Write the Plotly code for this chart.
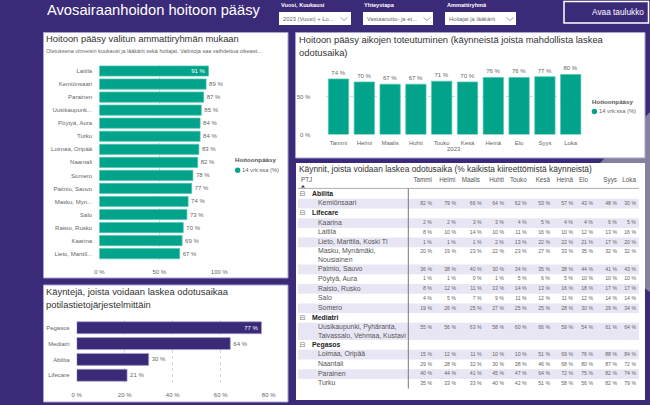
import plotly.graph_objects as go

W, H = 650, 405
BG = "#3B2A78"
TEAL = "#01A38B"
GRAY = "#666666"
DARK = "#333333"
STRIPE = "#E8E6F4"
FONT = "Liberation Sans"

clinic_names = ["Laitila", "Kemiönsaari", "Parainen", "Uusikaupunk...", "Pöytyä, Aura", "Turku", "Loimaa, Oripää",
                "Naantali", "Somero", "Paimio, Sauvo", "Masku, Myn...", "Salo", "Raisio, Rusko", "Kaarina", "Lieto, Marttil..."]
clinic_access = [91, 89, 87, 85, 84, 84, 83, 82, 78, 77, 74, 73, 70, 69, 67]

months = ["Tammi", "Helmi", "Maalis", "Huhti", "Touko", "Kesä", "Heinä", "Elo", "Syys", "Loka"]
monthly_access = [74, 70, 67, 67, 71, 70, 76, 76, 77, 80]

systems = ["Pegasos", "Mediatri", "Abilita", "Lifecare"]
system_share = [77, 64, 30, 21]

table_groups = [
    ("Abilita", [
        ("Kemiönsaari", [82, 79, 66, 64, 62, 53, 57, 43, 48, 30]),
    ]),
    ("Lifecare", [
        ("Kaarina", [2, 2, 3, 3, 4, 5, 4, 4, 6, 5]),
        ("Laitila", [8, 10, 14, 10, 11, 16, 10, 12, 13, 16]),
        ("Lieto, Marttila, Koski Tl", [1, 1, 1, 2, 13, 22, 22, 21, 17, 20]),
        ("Masku, Mynämäki,<br>Nousiainen", [20, 19, 23, 22, 23, 27, 33, 35, 32, 32]),
        ("Paimio, Sauvo", [36, 38, 40, 30, 34, 35, 38, 44, 41, 43]),
        ("Pöytyä, Aura", [1, 1, 0, 1, 5, 6, 5, 10, 10, 10]),
        ("Raisio, Rusko", [8, 12, 11, 13, 14, 13, 16, 18, 17, 17]),
        ("Salo", [4, 5, 7, 9, 11, 12, 11, 12, 14, 14]),
        ("Somero", [19, 26, 25, 27, 25, 25, 28, 30, 29, 34]),
    ]),
    ("Mediatri", [
        ("Uusikaupunki, Pyhäranta,<br>Taivassalo, Vehmaa, Kustavi", [55, 56, 63, 58, 60, 66, 59, 54, 61, 64]),
    ]),
    ("Pegasos", [
        ("Loimaa, Oripää", [15, 12, 11, 10, 10, 51, 69, 76, 88, 84]),
        ("Naantali", [29, 28, 32, 30, 38, 46, 68, 80, 87, 72]),
        ("Parainen", [40, 44, 41, 45, 47, 64, 72, 75, 82, 74]),
        ("Turku", [35, 33, 33, 40, 42, 51, 58, 56, 82, 79]),
    ]),
]

# pixel layout of the table
col_right = [432, 456, 481.7, 504, 526.7, 550, 573, 593, 617, 636]
head_right = [432, 455.3, 480, 504, 526.7, 550, 573, 588, 617, 636]
ROW_H, ROW2_H = 9.7, 17.3
TABLE_TOP = 189.1


def xd(a, b):
    return [a / W, b / W]


def yd(top, bottom):
    return [1 - bottom / H, 1 - top / H]


def note(x, y, text, size=6, color=GRAY, anchor="left", weight=None, font=FONT):
    if weight:
        text = f"<b>{text}</b>"
    return dict(xref="paper", yref="paper", x=x / W, y=1 - y / H, text=text, showarrow=False,
                xanchor=anchor, yanchor="middle", align=anchor, borderpad=0, borderwidth=0,
                font=dict(size=size, color=color, family=font))


def rect(x0, y0, x1, y1, fill="white", line=None, lw=1):
    return dict(type="rect", xref="paper", yref="paper", x0=x0 / W, x1=x1 / W, y0=1 - y0 / H, y1=1 - y1 / H,
                fillcolor=fill, line=dict(color=line or fill, width=lw if line else 0), layer="below")


def chevron(cx, cy):
    pts = [(cx - 3.5, cy - 1.5), (cx, cy + 1.5), (cx + 3.5, cy - 1.5)]
    path = "M" + " L".join(f"{x / W},{1 - y / H}" for x, y in pts)
    return dict(type="path", xref="paper", yref="paper", path=path, line=dict(color="#777777", width=0.7), layer="above")


fig = go.Figure()

# Chart 1
fig.add_trace(go.Bar(y=clinic_names, x=clinic_access, orientation="h", xaxis="x", yaxis="y",
                     marker=dict(color=TEAL, line=dict(color="#4FC4B0", width=0.7)), width=0.78,
                     texttemplate="%{x} %", textposition=["inside"] + ["outside"] * 14, insidetextanchor="end",
                     constraintext="none", cliponaxis=False,
                     outsidetextfont=dict(size=6, color=GRAY, family=FONT),
                     insidetextfont=dict(size=6, color="white", family=FONT), showlegend=False))
# Chart 2
fig.add_trace(go.Bar(x=months, y=monthly_access, xaxis="x2", yaxis="y2",
                     marker=dict(color=TEAL, line=dict(color="#4FC4B0", width=0.7)), width=0.787,
                     texttemplate="%{y} %", textposition="outside", constraintext="none", cliponaxis=False,
                     outsidetextfont=dict(size=6, color=GRAY, family=FONT), showlegend=False))
# Chart 3
fig.add_trace(go.Bar(y=systems, x=system_share, orientation="h", xaxis="x3", yaxis="y3",
                     marker=dict(color=BG, line=dict(color="#A9A2CF", width=0.7)), width=0.756,
                     texttemplate="%{x} %", textposition=["inside"] + ["outside"] * 3, insidetextanchor="end",
                     constraintext="none", cliponaxis=False,
                     outsidetextfont=dict(size=6, color=GRAY, family=FONT),
                     insidetextfont=dict(size=6, color="white", family=FONT), showlegend=False))

# Table built from the row lists
stripe_y, stripe_h = [], []
val_x, val_y, val_t = [], [], []
lab_y, lab_t = [], []
grp_y, grp_t = [], []
y = TABLE_TOP
for group, rows in table_groups:
    grp_y.append(y + ROW_H / 2)
    grp_t.append(group)
    y += ROW_H
    for i, (label, vals) in enumerate(rows):
        h = ROW2_H if "<br>" in label else ROW_H
        if i % 2 == 0:
            stripe_y.append(y + h / 2)
            stripe_h.append(h)
        lab_y.append(y + h / 2)
        lab_t.append(label)
        for xr, v in zip(col_right, vals):
            val_x.append(xr)
            val_y.append(y + ROW_H / 2)
            val_t.append(f"{v} %")
        y += h
TABLE_BOTTOM = y

fig.add_trace(go.Bar(y=stripe_y, x=[341] * len(stripe_y), base=[298] * len(stripe_y), width=stripe_h, orientation="h",
                     xaxis="x4", yaxis="y4", marker=dict(color=STRIPE, line=dict(width=0)), showlegend=False))
fig.add_trace(go.Scatter(x=val_x, y=val_y, text=val_t, mode="text", textposition="middle left", xaxis="x4", yaxis="y4",
                         textfont=dict(size=5.2, color=GRAY, family=FONT), showlegend=False, cliponaxis=False))
fig.add_trace(go.Scatter(x=[318] * len(lab_y), y=lab_y, text=lab_t, mode="text", textposition="middle right",
                         xaxis="x4", yaxis="y4", textfont=dict(size=6.9, color="#555555", family=FONT),
                         showlegend=False, cliponaxis=False))
fig.add_trace(go.Scatter(x=[312] * len(grp_y), y=grp_y, text=[f"<b>{g}</b>" for g in grp_t], mode="text",
                         textposition="middle right", xaxis="x4", yaxis="y4",
                         textfont=dict(size=6.9, color="#222222", family=FONT), showlegend=False, cliponaxis=False))
fig.add_trace(go.Scatter(x=[302.5] * len(grp_y), y=grp_y, text=["⊟"] * len(grp_y), mode="text",
                         textposition="middle center", xaxis="x4", yaxis="y4",
                         textfont=dict(size=7, color="#777777", family="DejaVu Sans"), showlegend=False, cliponaxis=False))
fig.add_trace(go.Scatter(x=head_right, y=[180] * len(months), text=months, mode="text", textposition="middle left",
                         xaxis="x4", yaxis="y4", textfont=dict(size=6.3, color="#555555", family=FONT),
                         showlegend=False, cliponaxis=False))
fig.add_trace(go.Scatter(x=[301], y=[180], text=["PTJ"], mode="text", textposition="middle right",
                         xaxis="x4", yaxis="y4", textfont=dict(size=6.3, color="#555555", family=FONT),
                         showlegend=False, cliponaxis=False))

axis_font = dict(size=6, color=GRAY, family=FONT)
grid = dict(showgrid=True, gridcolor="#D8D8D8", griddash="dot", gridwidth=0.7, zeroline=False, showline=False)
plain = dict(showgrid=False, zeroline=False, showline=False)


def pct_ticks(vals):
    return dict(tickmode="array", tickvals=vals, ticktext=[f"{v} %" for v in vals])


shapes = [
    # lighter background streak at the right
    dict(type="path", xref="paper", yref="paper", layer="below", fillcolor="#85809F", line=dict(width=0),
         path=f"M{600 / W},{1 - 163 / H} L{650 / W},{1 - 112 / H} L{650 / W},{1 - 292 / H} L{640 / W},{1 - 285 / H} Z"),
    rect(43.5, 32.5, 288, 278, line="#A9A2CF"),
    rect(295.5, 32.5, 645, 158, line="#A9A2CF"),
    rect(43.5, 285, 288, 402, line="#A9A2CF"),
    rect(296, 163, 645, 400),
    # slicers
    rect(279, 12, 351, 25), rect(363, 12, 433, 25), rect(445, 12, 516, 25),
    rect(564, 1.5, 648.5, 23, fill=BG, line="white", lw=1.5),
    chevron(344, 19), chevron(427, 19), chevron(510, 19),
    # table rules
    dict(type="line", xref="paper", yref="paper", x0=298 / W, x1=639 / W, y0=1 - 188.4 / H, y1=1 - 188.4 / H,
         line=dict(color="#999999", width=0.8)),
    dict(type="line", xref="paper", yref="paper", x0=408.3 / W, x1=408.3 / W, y0=1 - 188.4 / H, y1=1 - TABLE_BOTTOM / H,
         line=dict(color="#777777", width=1)),
    # sort arrow
    dict(type="path", xref="paper", yref="paper", fillcolor="#333333", line=dict(width=0),
         path=f"M{301 / W},{1 - 187.5 / H} L{305 / W},{1 - 187.5 / H} L{303 / W},{1 - 185 / H} Z"),
    # legend dots
    dict(type="circle", xref="paper", yref="paper", fillcolor=TEAL, line=dict(width=0),
         x0=235 / W, x1=240.4 / W, y0=1 - 167.5 / H, y1=1 - 172.9 / H),
    dict(type="circle", xref="paper", yref="paper", fillcolor=TEAL, line=dict(width=0),
         x0=591.7 / W, x1=597.1 / W, y0=1 - 108.8 / H, y1=1 - 114.2 / H),
]

annotations = [
    note(46.5, 10, "Avosairaanhoidon hoitoon pääsy", size=14.7, color="white"),
    note(281, 4.8, "Vuosi, Kuukausi", size=5.6, color="white", weight=True),
    note(364, 4.8, "Yhteystapa", size=5.6, color="white", weight=True),
    note(446.5, 4.8, "Ammattiryhmä", size=5.6, color="white", weight=True),
    note(283, 19, "2023 (Vuosi) + Lo...", size=5.8),
    note(367, 19, "Vastaanotto- ja et...", size=5.8),
    note(449, 19, "Hoitajat ja lääkärit", size=5.8),
    note(618, 12.3, "Avaa taulukko", size=8.3, color="white", anchor="center"),
    note(46, 38.7, "Hoitoon pääsy valitun ammattiryhmän mukaan", size=9.4, color=DARK),
    note(46, 51, "Oletuksena viimeisin kuukausi ja lääkärit sekä hoitajat. Valintoja saa vaihdettua oikeast...", size=5.5),
    note(298.5, 39, "Hoitoon pääsy aikojen toteutuminen (käynneistä joista mahdollista laskea", size=9.4, color=DARK),
    note(298.5, 52, "odotusaika)", size=9.4, color=DARK),
    note(46, 291.5, "Käyntejä, joista voidaan laskea odotusaikaa", size=9.4, color=DARK),
    note(46, 304, "potilastietojärjestelmittäin", size=9.4, color=DARK),
    note(298.5, 169, "Käynnit, joista voidaan laskea odotusaika (% kaikista kiireettömistä käynneistä)", size=8.4, color=DARK),
    note(235, 159.8, "Hoitoonpääsy", size=6.2, color="#555555", weight=True),
    note(242, 170.2, "14 vrk:ssa (%)", size=5.8),
    note(591.7, 101.5, "Hoitoonpääsy", size=6.2, color="#555555", weight=True),
    note(599, 111.5, "14 vrk:ssa (%)", size=5.8),
    note(454, 148.5, "2023", size=6, anchor="center"),
]

fig.update_layout(
    width=W, height=H, margin=dict(l=0, r=0, t=0, b=0, pad=0, autoexpand=False), autosize=False,
    paper_bgcolor=BG, plot_bgcolor="rgba(0,0,0,0)",
    font=dict(family=FONT, size=6, color=GRAY),
    shapes=shapes, annotations=annotations,
    xaxis=dict(domain=xd(99.3, 219.3), range=[0, 100], anchor="y", **pct_ticks([0, 50, 100]),
               tickfont=axis_font, ticks="outside", ticklen=5.5, tickcolor="rgba(0,0,0,0)", **grid),
    yaxis=dict(domain=yd(64.5, 260.2), autorange="reversed", anchor="x", tickfont=axis_font, ticks="outside",
               ticklen=5, tickcolor="rgba(0,0,0,0)", **plain),
    xaxis2=dict(domain=xd(325.6, 583.6), anchor="y2", tickfont=axis_font, ticks="outside", ticklen=2,
                tickcolor="rgba(0,0,0,0)", **plain),
    yaxis2=dict(domain=yd(66, 134.5), range=[0, 91.3], anchor="x2", **pct_ticks([0, 50]),
                tickfont=axis_font, ticks="outside", ticklen=13, tickcolor="rgba(0,0,0,0)", **grid),
    xaxis3=dict(domain=xd(76.7, 268.7), range=[0, 80], anchor="y3", **pct_ticks([0, 20, 40, 60, 80]),
                tickfont=axis_font, ticks="outside", ticklen=6, tickcolor="rgba(0,0,0,0)", **grid),
    yaxis3=dict(domain=yd(319.8, 383.2), autorange="reversed", anchor="x3", tickfont=axis_font, ticks="outside",
                ticklen=5, tickcolor="rgba(0,0,0,0)", **plain),
    xaxis4=dict(domain=[0, 1], range=[0, W], anchor="y4", visible=False, fixedrange=True),
    yaxis4=dict(domain=[0, 1], range=[H, 0], anchor="x4", visible=False, fixedrange=True),
    barmode="overlay",
)

fig.write_html("out.html", post_script="document.body.style.margin='0';document.body.style.background='%s';" % BG,
               config={"displayModeBar": False})
